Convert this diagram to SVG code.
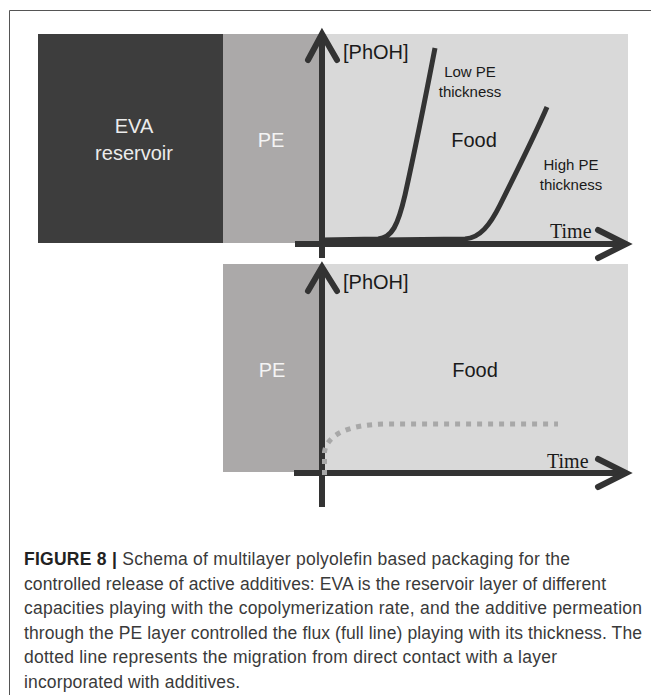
<svg xmlns="http://www.w3.org/2000/svg" width="651" height="695" viewBox="0 0 651 695">
<style>
.lbl{font-family:"Liberation Sans",Arial,sans-serif;font-size:20px;fill:#1a1a1a}
.sm{font-family:"Liberation Sans",Arial,sans-serif;font-size:15px;fill:#1a1a1a}
.wt{fill:#ececec}
.tm{font-family:"Liberation Serif","Times New Roman",serif;font-size:20px;fill:#1a1a1a}
.ax{fill:none;stroke:#333;stroke-width:6;stroke-linecap:butt}
.ah{fill:none;stroke:#333;stroke-width:6;stroke-linecap:round;stroke-linejoin:miter}
.cv{fill:none;stroke:#333;stroke-width:5;stroke-linecap:butt;stroke-linejoin:round}
.dot{fill:none;stroke:#a8a8a8;stroke-width:5;stroke-dasharray:5 6}
.cap{font-family:"Liberation Sans",Arial,sans-serif;font-size:17.5px;fill:#3a3a3a}
</style>
<rect width="651" height="695" fill="#fff"/>
<path d="M9.5 695 V10.5 H651" fill="none" stroke="#555" stroke-width="1"/>

<g id="eva-reservoir">
<rect x="38" y="34" width="185" height="209" fill="#3d3d3d"/>
<text class="lbl wt" x="134" y="133" text-anchor="middle">EVA</text>
<text class="lbl wt" x="134" y="160" text-anchor="middle">reservoir</text>
</g>
<g id="pe-top">
<rect x="223" y="34" width="97" height="209" fill="#aba9a9"/>
<text class="lbl" x="271" y="147" text-anchor="middle" style="fill:#f4f4f4">PE</text>
</g>
<g id="food-top">
<rect x="320" y="34" width="308" height="209" fill="#d9d9d9"/>
<text class="lbl" x="474" y="147" text-anchor="middle">Food</text>
</g>

<g id="pe-bottom">
<rect x="223" y="264" width="97" height="208" fill="#aba9a9"/>
<text class="lbl" x="272" y="377" text-anchor="middle" style="fill:#f4f4f4">PE</text>
</g>
<g id="food-bottom">
<rect x="320" y="264" width="308" height="208" fill="#d9d9d9"/>
<text class="lbl" x="475" y="377" text-anchor="middle">Food</text>
</g>

<g id="labels">
<text class="lbl" x="343" y="59">[PhOH]</text>
<text class="sm" x="470" y="77" text-anchor="middle">Low PE</text>
<text class="sm" x="470" y="97" text-anchor="middle">thickness</text>
<text class="sm" x="571" y="170" text-anchor="middle">High PE</text>
<text class="sm" x="571" y="190" text-anchor="middle">thickness</text>
<text class="tm" x="550" y="238">Time</text>
<text class="lbl" x="343" y="289">[PhOH]</text>
<text class="tm" x="547" y="468">Time</text>
</g>

<g id="connectors">
<path class="cv" d="M322 240 L378 239 C392 238 398 225 405 195 C415 150 425 100 435 48"/>
<path class="cv" d="M380 240 L465 239 C480 238 490 225 500 205 C520 165 535 135 547 107"/>
<path class="ax" d="M322 36 V258"/>
<path class="ah" d="M308 60 L322 34 L337 60"/>
<path class="ax" d="M295 244 H624"/>
<path class="ah" d="M598 230 L626 244 L598 258"/>
<path class="ax" d="M322 268 V507"/>
<path class="ah" d="M308 291 L322 267 L337 291"/>
<path class="ax" d="M294 473 H624"/>
<path class="ah" d="M598 459 L626 473 L598 487"/>
<path class="dot" d="M324.5 475 V452 C327 434 350 424.5 385 424 H558"/>
</g>

<g id="caption">
<text class="cap" x="24" y="565" textLength="546" lengthAdjust="spacing"><tspan font-weight="bold" fill="#222">FIGURE 8 |</tspan> Schema of multilayer polyolefin based packaging for the</text>
<text class="cap" x="24" y="589.5" textLength="582" lengthAdjust="spacing">controlled release of active additives: EVA is the reservoir layer of different</text>
<text class="cap" x="24" y="614" textLength="618" lengthAdjust="spacing">capacities playing with the copolymerization rate, and the additive permeation</text>
<text class="cap" x="24" y="638.5" textLength="618" lengthAdjust="spacing">through the PE layer controlled the flux (full line) playing with its thickness. The</text>
<text class="cap" x="24" y="663" textLength="533" lengthAdjust="spacing">dotted line represents the migration from direct contact with a layer</text>
<text class="cap" x="24" y="687.5" textLength="216" lengthAdjust="spacing">incorporated with additives.</text>
</g>
</svg>
